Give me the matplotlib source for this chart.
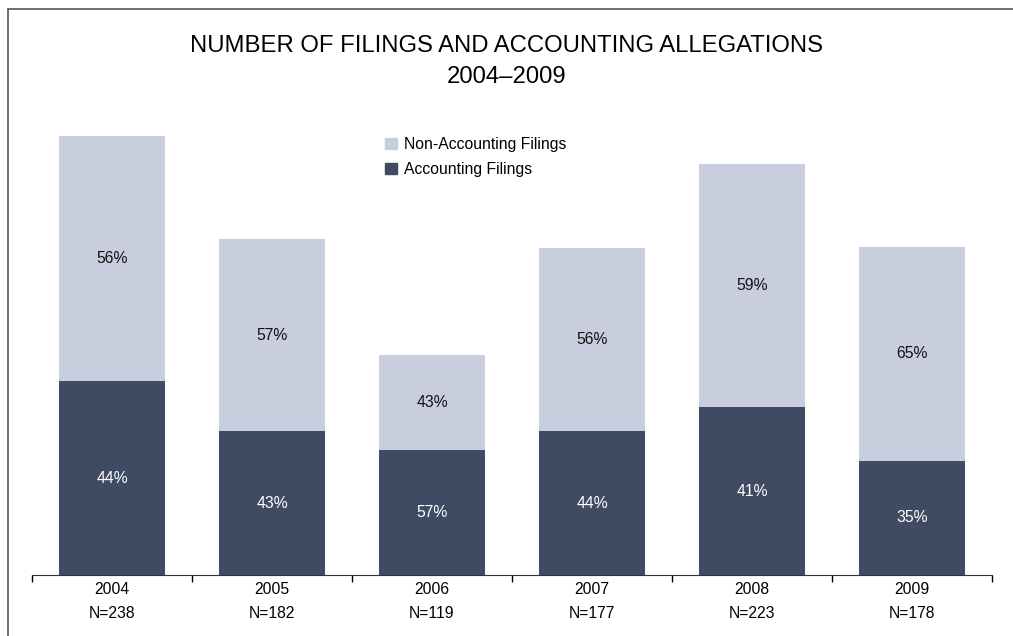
import matplotlib.pyplot as plt
from matplotlib.patches import Patch
import numpy as np

plt.rcParams['font.family'] = ['Liberation Sans', 'DejaVu Sans']

years = ['2004', '2005', '2006', '2007', '2008', '2009']
totals = [238, 182, 119, 177, 223, 178]
accounting = [105, 78, 68, 78, 91, 62]
non_accounting = [133, 104, 51, 99, 132, 116]
acc_pct = ['44%', '43%', '57%', '44%', '41%', '35%']
non_pct = ['56%', '57%', '43%', '56%', '59%', '65%']

dark = '#3f4a63'
light = '#c8cede'

fig = plt.figure(figsize=(10.13, 6.36), dpi=100)
ax = fig.add_axes([32 / 1013, 1 - 575 / 636, 960 / 1013, 475 / 636])

x = np.arange(len(years))
ax.bar(x, accounting, width=0.66, color=dark)
ax.bar(x, non_accounting, width=0.66, bottom=accounting, color=light)

for i in x:
    ax.text(i, accounting[i] / 2, acc_pct[i], ha='center', va='center',
            color='white', fontsize=11.3)
    ax.text(i, accounting[i] + non_accounting[i] / 2, non_pct[i], ha='center',
            va='center', color='#111111', fontsize=11.3)

ax.set_xlim(-0.5, 5.5)
ax.set_ylim(0, 257.5)
ax.set_xticks(x)
ax.set_xticklabels([f'{y}\nN={n}' for y, n in zip(years, totals)], fontsize=11.3,
                   linespacing=1.75)
ax.set_xticks(np.arange(-0.5, 6, 1), minor=True)
ax.tick_params(axis='x', which='major', length=0, pad=5)
ax.tick_params(axis='x', which='minor', length=5, direction='out', width=1)
ax.set_yticks([])
for s in ['top', 'right', 'left']:
    ax.spines[s].set_visible(False)
ax.spines['bottom'].set_color('#333333')

handles = [Patch(color=light, label='Non-Accounting Filings'),
           Patch(color=dark, label='Accounting Filings')]
fig.legend(handles=handles, loc='upper left', bbox_to_anchor=(377 / 1013, 1 - 129 / 636),
           frameon=False, fontsize=11.3, handlelength=0.75, handleheight=0.75,
           handletextpad=0.45, labelspacing=0.65, borderpad=0)

fig.text(0.5, 1 - 46 / 636, 'NUMBER OF FILINGS AND ACCOUNTING ALLEGATIONS',
         ha='center', va='center', fontsize=17.2)
fig.text(0.5, 1 - 77 / 636, '2004\u20132009', ha='center', va='center', fontsize=17.2)

# frame around the page (left and top visible)
fig.add_artist(plt.Rectangle((8 / 1013, -0.1), 1.1, 1 - 9 / 636 + 0.1,
                             transform=fig.transFigure, fill=False,
                             edgecolor='#555555', linewidth=1.2))

fig.savefig('out.png', dpi=100)
